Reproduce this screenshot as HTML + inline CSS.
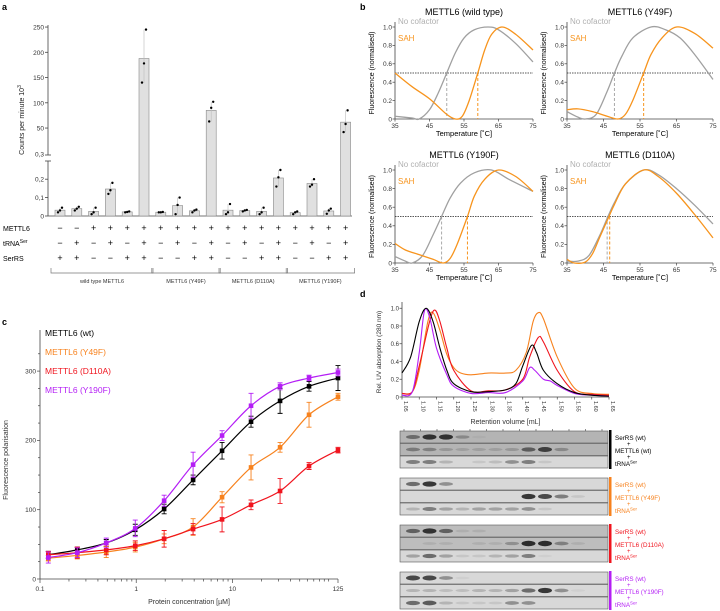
<!DOCTYPE html>
<html><head><meta charset="utf-8"><style>
body{margin:0;background:#fff}
svg{display:block;font-family:"Liberation Sans",sans-serif}
</style></head><body>
<svg id="fig" width="720" height="611" viewBox="0 0 720 611" xmlns="http://www.w3.org/2000/svg"></svg>
<script>
// ---------- Panel a data ----------
const aGroups = ["wild type METTL6","METTL6 (Y49F)","METTL6 (D110A)","METTL6 (Y190F)"];
const aGroupSizes = [6,4,4,4];
const aReps = [[0.02,0.03,0.045],[0.03,0.04,0.05],[0.01,0.02,0.045],[0.12,0.14,0.18],[0.02,0.022,0.025],[140,178,245],
 [0.02,0.02,0.022],[0.01,0.06,0.1],[0.02,0.03,0.035],[63,90,102],
 [0.01,0.02,0.065],[0.025,0.03,0.033],[0.01,0.02,0.045],[0.16,0.21,0.25],
 [0.01,0.02,0.025],[0.16,0.17,0.2],[0.012,0.03,0.04],[42,58,85]];
const aUpper = [0,0,0,0,0,1, 0,0,0,1, 0,0,0,0, 0,0,0,1];
const aMettl = "--++++++++++++++++";
const aTrna  = "-+-+-+-+-+-+-+-+-+";
const aSerrs = "++--++--++--++--++";
const aUpperTicks = [50,100,150,200,250];
const aLowerTicks = [0,0.1,0.2];
// ---------- Panel b data ----------
const bTitles = ["METTL6 (wild type)","METTL6 (Y49F)","METTL6 (Y190F)","METTL6 (D110A)"];
const bGray = [
 [[35,.03],[40,.01],[42,0],[45,.1],[47.5,.28],[50,.5],[52.5,.72],[55,.88],[58,.97],[62,1],[65,.97],[70,.82],[75,.62]],
 [[35,.08],[38,.02],[40,0],[43,.05],[46,.3],[48,.5],[50,.68],[53,.88],[58,1],[62,.97],[66,.88],[70,.7],[75,.43]],
 [[35,.07],[38,.02],[40,0],[43,.08],[46,.3],[48.5,.5],[51,.7],[54,.86],[58,.97],[63,1],[68,.9],[75,.77]],
 [[35,.02],[38,.02],[41,.08],[44,.3],[46,.48],[48,.65],[51,.85],[56,1],[60,.95],[65,.8],[70,.62],[75,.42]]];
const bOrange = [
 [[35,.5],[40,.35],[45,.22],[50,.05],[52.5,0],[54.5,.03],[56.5,.2],[59,.5],[61,.75],[63,.92],[66,1],[70,.92],[75,.75]],
 [[35,.1],[38,.11],[42,.08],[46,.03],[49,0],[51,.05],[53,.2],[56,.5],[58,.7],[61,.88],[65,1],[70,.93],[75,.77]],
 [[35,.21],[38,.14],[42,.09],[46,.04],[49,0],[51,.05],[53,.2],[56,.5],[58,.72],[61,.9],[65,1],[70,.93],[75,.77]],
 [[35,.04],[37,0],[40,.01],[42,.1],[44,.28],[46.5,.5],[48,.63],[51,.85],[56,1],[60,.93],[65,.75],[70,.52],[75,.27]]];
const bTmGray = [50,48,48.5,46];
const bTmOrange = [59,56,56,46.7];
const bXTicks = [35,45,55,65,75];
const bYTicks = [0,0.2,0.4,0.6,0.8,1.0];
// ---------- Panel c data ----------
const cConc = [0.122,0.244,0.488,0.977,1.95,3.9,7.8,15.6,31.25,62.5,125];
const cNames = ["METTL6 (wt)","METTL6 (Y49F)","METTL6 (D110A)","METTL6 (Y190F)"];
const cColors = ["#000","#f7821e","#f0141e","#b41ef5"];
const cWt    = [35,42,52,71,101,143,185,227,257,278,290];
const cY49F  = [30,34,39,46,58,75,118,161,190,237,263];
const cD110A = [35,38,42,48,58,72,86,107,127,163,186];
const cY190F = [31,38,52,73,113,165,207,250,278,290,298];
const cErr   = [5,4,5,8,7,7,12,8,18,7,18];
const cYTicks = [0,100,200,300];
// ---------- Panel d data ----------
const dXTicks = [1.05,1.10,1.15,1.20,1.25,1.30,1.35,1.40,1.45,1.50,1.55,1.60,1.65];
const dYTicks = [0,0.2,0.4,0.6,0.8,1.0];
const dBlack = [[1.05,.27],[1.075,.45],[1.1,.85],[1.12,1],[1.14,.85],[1.16,.55],[1.18,.3],[1.2,.15],[1.25,.06],[1.3,.06],[1.35,.08],[1.38,.15],[1.4,.35],[1.425,.58],[1.44,.5],[1.46,.3],[1.5,.15],[1.55,.05],[1.6,.02],[1.65,.01]];
const dOrange = [[1.05,.04],[1.08,.06],[1.1,.3],[1.125,.85],[1.14,.95],[1.16,.75],[1.18,.48],[1.2,.33],[1.22,.27],[1.25,.25],[1.3,.27],[1.35,.27],[1.38,.3],[1.41,.5],[1.43,.85],[1.445,.95],[1.46,.88],[1.5,.45],[1.55,.1],[1.6,.04],[1.65,.03]];
const dRed = [[1.05,.04],[1.08,.06],[1.1,.35],[1.13,.85],[1.145,.98],[1.16,.85],[1.18,.55],[1.2,.3],[1.25,.07],[1.3,.07],[1.35,.08],[1.4,.2],[1.42,.45],[1.445,.67],[1.46,.62],[1.5,.3],[1.55,.06],[1.6,.03],[1.65,.02]];
const dPurple = [[1.05,.02],[1.08,.06],[1.1,.5],[1.115,.97],[1.13,.9],[1.15,.55],[1.18,.25],[1.2,.12],[1.25,.04],[1.3,.05],[1.35,.05],[1.4,.18],[1.42,.33],[1.435,.3],[1.46,.2],[1.48,.18],[1.5,.13],[1.55,.04],[1.6,.02],[1.65,.01]];
const dGelMutants = ["wt","Y49F","D110A","Y190F"];
const dGelBands = [
 [[.5,.9,.9,.3,.05,0,0,0,0,0,0,0],[.4,.35,.2,.15,.15,.15,.2,.6,.8,.3,0,0],[.5,.5,.2,0,.1,.15,.4,.5,.1,0,0,0]],
 [[.6,.9,.4,0,0,0,0,0,0,0,0,0],[0,0,0,0,0,0,0,.9,.8,.5,.1,0],[.2,.5,.3,.2,.3,.3,.3,.4,.1,0,0,0]],
 [[.6,.9,.6,.1,.1,0,0,0,0,0,0,0],[0,.1,.1,0,.1,.1,.3,.95,.95,.4,.1,0],[.3,.6,.3,.1,.1,.2,.3,.5,.05,0,0,0]],
 [[.8,.8,.4,.05,0,0,0,0,0,0,0,0],[.2,.2,.15,.15,.2,.2,.3,.6,.9,.4,.05,0],[.6,.7,.2,.1,.1,.1,.4,.4,0,0,0,0]]];

const NS="http://www.w3.org/2000/svg";
const svg=document.getElementById('fig');
function el(tag,attrs,parent){const e=document.createElementNS(NS,tag);for(const k in attrs)e.setAttribute(k,attrs[k]);(parent||svg).appendChild(e);return e;}
function txt(s,x,y,size,attrs,parent){const t=el('text',Object.assign({x:x,y:y,'font-size':size},attrs||{}),parent);t.textContent=s;return t;}
function smooth(pts){let d="M"+pts[0][0]+","+pts[0][1];for(let i=0;i<pts.length-1;i++){const p0=pts[i-1]||pts[i],p1=pts[i],p2=pts[i+1],p3=pts[i+2]||p2;
 d+=" C"+(p1[0]+(p2[0]-p0[0])/6)+","+(p1[1]+(p2[1]-p0[1])/6)+" "+(p2[0]-(p3[0]-p1[0])/6)+","+(p2[1]-(p3[1]-p1[1])/6)+" "+p2[0]+","+p2[1];}return d;}

// ================= PANEL A =================
const ga=el('g',{});

txt("a",2,10,9,{'font-weight':'bold'},ga);
const ayU=v=>153.3-v*0.505, ayL=v=>216-v*184;
const ax0=48, bx=i=>60+i*16.8;
el('line',{x1:ax0,y1:25,x2:ax0,y2:155,stroke:'#444','stroke-width':0.8},ga);
el('line',{x1:ax0,y1:161,x2:ax0,y2:216,stroke:'#444','stroke-width':0.8},ga);
el('line',{x1:ax0,y1:216,x2:352,y2:216,stroke:'#444','stroke-width':0.8},ga);
el('line',{x1:ax0-3,y1:155,x2:ax0+3,y2:155,stroke:'#444','stroke-width':0.8},ga);
el('line',{x1:ax0-3,y1:161,x2:ax0+3,y2:161,stroke:'#444','stroke-width':0.8},ga);
aUpperTicks.forEach(v=>{el('line',{x1:ax0-3,y1:ayU(v),x2:ax0,y2:ayU(v),stroke:'#444','stroke-width':0.8},ga);txt(String(v),ax0-4,ayU(v)+2.5,6.5,{'text-anchor':'end',fill:'#333'},ga);});
txt("0,3",ax0-4,156.5,6.5,{'text-anchor':'end',fill:'#333'},ga);
aLowerTicks.forEach(v=>{el('line',{x1:ax0-3,y1:ayL(v),x2:ax0,y2:ayL(v),stroke:'#444','stroke-width':0.8},ga);txt(v===0?"0":String(v).replace('.',','),ax0-4,ayL(v)+2.5,6.5,{'text-anchor':'end',fill:'#333'},ga);});
const ylab=txt("Counts per minute 10",0,0,7,{transform:'translate(24,120) rotate(-90)','text-anchor':'middle',fill:'#222'},ga);
const sup=el('tspan',{'font-size':5,dy:-3},ylab);sup.textContent="3";
aReps.forEach((r,i)=>{
 const m=r.reduce((a,b)=>a+b,0)/r.length;const f=aUpper[i]?ayU:ayL;
 const x=bx(i);
 const b=el('rect',{x:x-5,y:f(m),width:10,height:216-f(m),fill:'#e0e0e0',stroke:'#888','stroke-width':0.6},ga);
 
 const mx=Math.max(...r),mn=Math.min(...r);
 el('line',{x1:x,y1:f(mx),x2:x,y2:f(mn),stroke:'#bbb','stroke-width':0.6},ga);
 r.forEach((v,j)=>el('circle',{cx:x+(j-1)*2,cy:f(v),r:1.2,fill:'#000'},ga));
 txt(aMettl[i]==='+'?'+':'−',x,231,9,{'text-anchor':'middle'},ga);
 txt(aTrna[i]==='+'?'+':'−',x,246,9,{'text-anchor':'middle'},ga);
 txt(aSerrs[i]==='+'?'+':'−',x,261,9,{'text-anchor':'middle'},ga);
});
txt("METTL6",3,231,7,{},ga);
const tr=txt("tRNA",3,246,7,{},ga);const ts=el('tspan',{'font-size':5,dy:-3},tr);ts.textContent="Ser";
txt("SerRS",3,261,7,{},ga);
let start=0;aGroups.forEach((g,k)=>{const x1=bx(start)-9,x2=bx(start+aGroupSizes[k]-1)+9;
 el('path',{d:`M${x1},268 V273 H${x2} V268`,fill:'none',stroke:'#777','stroke-width':0.7},ga);
 txt(g,(x1+x2)/2,283,5.5,{'text-anchor':'middle',fill:'#333'},ga);start+=aGroupSizes[k];});

// ================= PANEL B =================
const gb=el('g',{});

txt("b",360,10,9,{'font-weight':'bold'},gb);
const bLayout=[[395,533,27,119],[567,713,27,119],[395,533,170,263],[567,713,170,263]];
bTitles.forEach((t,k)=>{
 const [x0,x1,y1,y0]=bLayout[k];const sx=v=>x0+(v-35)/40*(x1-x0), sy=v=>y0-(v)*(y0-y1);
 const g=el('g',{},gb);
 txt(t,(x0+x1)/2,y1-12,9,{'text-anchor':'middle'},g);
 el('line',{x1:x0,y1:y1-5,x2:x0,y2:y0,stroke:'#444','stroke-width':0.8},g);
 el('line',{x1:x0,y1:y0,x2:x1,y2:y0,stroke:'#444','stroke-width':0.8},g);
 bYTicks.forEach(v=>{el('line',{x1:x0-2.5,y1:sy(v),x2:x0,y2:sy(v),stroke:'#444','stroke-width':.7},g);txt(v===0?"0":v.toFixed(1),x0-3,sy(v)+2.3,6.5,{'text-anchor':'end',fill:'#333'},g);});
 bXTicks.forEach(v=>{el('line',{x1:sx(v),y1:y0,x2:sx(v),y2:y0+2.5,stroke:'#444','stroke-width':.7},g);txt(String(v),sx(v),y0+9,6.5,{'text-anchor':'middle',fill:'#333'},g);});
 txt("Temperature [˚C]",(x0+x1)/2,y0+17,7.5,{'text-anchor':'middle'},g);
 txt("Fluorescence (normalised)",0,0,7,{transform:`translate(${x0-21},${(y0+y1)/2}) rotate(-90)`,'text-anchor':'middle'},g);
 el('line',{x1:x0,y1:sy(.5),x2:x1,y2:sy(.5),stroke:'#222','stroke-width':.7,'stroke-dasharray':'1.5,1'},g);
 el('line',{x1:sx(bTmGray[k]),y1:sy(.5),x2:sx(bTmGray[k]),y2:y0,stroke:'#aaa','stroke-width':1,'stroke-dasharray':'3,2'},g);
 el('line',{x1:sx(bTmOrange[k]),y1:sy(.5),x2:sx(bTmOrange[k]),y2:y0,stroke:'#f7941d','stroke-width':1,'stroke-dasharray':'3,2'},g);
 const pg=el('path',{d:smooth(bGray[k].map(p=>[sx(p[0]),sy(p[1])])),fill:'none',stroke:'#a0a0a0','stroke-width':1.3},g);
 
 const po=el('path',{d:smooth(bOrange[k].map(p=>[sx(p[0]),sy(p[1])])),fill:'none',stroke:'#f7941d','stroke-width':1.3},g);
 
 txt("No cofactor",x0+3,y1-3,8,{fill:'#b0b0b0'},g);
 txt("SAH",x0+3,y1+14,8,{fill:'#f7941d'},g);
});

// ================= PANEL C =================
const gc=el('g',{});

txt("c",2,325,9,{'font-weight':'bold'},gc);
const cx0=40,cx1=338,cy0=579;
const csx=v=>cx0+(Math.log10(v)+1)/(Math.log10(125)+1)*(cx1-cx0), csy=v=>cy0-v*0.693;
el('line',{x1:cx0,y1:cy0,x2:cx0,y2:330,stroke:'#444','stroke-width':.8},gc);
el('line',{x1:cx0,y1:cy0,x2:cx1,y2:cy0,stroke:'#444','stroke-width':.8},gc);
for(let v=0;v<=325;v+=25){el('line',{x1:cx0-(v%100?2:3),y1:csy(v),x2:cx0,y2:csy(v),stroke:'#444','stroke-width':.7},gc);}
cYTicks.forEach(v=>txt(String(v),cx0-4,csy(v)+2.3,6.5,{'text-anchor':'end',fill:'#333'},gc));
[0.1,0.2,0.3,0.4,0.5,0.6,0.7,0.8,0.9,1,2,3,4,5,6,7,8,9,10,20,30,40,50,60,70,80,90,100,125].forEach(v=>{
 const major=[0.1,1,10,125].includes(v);el('line',{x1:csx(v),y1:cy0,x2:csx(v),y2:cy0+(major?4:2.5),stroke:'#444','stroke-width':.7},gc);
 if(major)txt(String(v),csx(v),cy0+12,6.5,{'text-anchor':'middle',fill:'#333'},gc);});
txt("Protein concentration [µM]",(cx0+cx1)/2,604,7,{'text-anchor':'middle',fill:'#333'},gc);
txt("Fluorescence polarisation",0,0,7,{transform:'translate(8,460) rotate(-90)','text-anchor':'middle',fill:'#333'},gc);
[cWt,cY49F,cD110A,cY190F].forEach((s,k)=>{
 const g=el('g',{},gc);
 el('path',{d:smooth(s.map((v,i)=>[csx(cConc[i]),csy(v)])),fill:'none',stroke:cColors[k],'stroke-width':1.2},g);
 s.forEach((v,i)=>{const x=csx(cConc[i]),e=cErr[(i+k)%cErr.length]*0.693;
  el('path',{d:`M${x},${csy(v)-e}V${csy(v)+e}M${x-2.5},${csy(v)-e}h5M${x-2.5},${csy(v)+e}h5`,stroke:cColors[k],'stroke-width':.9,fill:'none'},g);
  el('rect',{x:x-2.3,y:csy(v)-2.3,width:4.6,height:4.6,fill:cColors[k]},g);});
 txt(cNames[k],45,336+k*19,8.5,{fill:cColors[k]},gc);
});

// ================= PANEL D =================
const gd=el('g',{});

txt("d",360,297,9,{'font-weight':'bold'},gd);
const dx0=402,dx1=609,dy0=397;
const dsx=v=>dx0+(v-1.05)/0.6*(dx1-dx0), dsy=v=>dy0-v*88.75;
el('line',{x1:dx0,y1:dy0,x2:dx0,y2:302,stroke:'#444','stroke-width':.8},gd);
el('line',{x1:dx0,y1:dy0,x2:dx1,y2:dy0,stroke:'#444','stroke-width':.8},gd);
dYTicks.forEach(v=>{el('line',{x1:dx0-2.5,y1:dsy(v),x2:dx0,y2:dsy(v),stroke:'#444','stroke-width':.7},gd);txt(v===0?"0":v.toFixed(1),dx0-3,dsy(v)+2.3,6,{'text-anchor':'end',fill:'#333'},gd);});
dXTicks.forEach(v=>{el('line',{x1:dsx(v),y1:dy0,x2:dsx(v),y2:dy0+2.5,stroke:'#444','stroke-width':.7},gd);
 txt(v.toFixed(2),0,0,5.5,{transform:`translate(${dsx(v)+2},${dy0+4}) rotate(90)`,fill:'#333'},gd);});
txt("Retention volume [mL]",(dx0+dx1)/2,424,7,{'text-anchor':'middle',fill:'#333'},gd);
txt("Rel. UV absorption (280 nm)",0,0,6.5,{transform:'translate(381,352) rotate(-90)','text-anchor':'middle',fill:'#333'},gd);
[[dOrange,"#f7821e"],[dRed,"#f0141e"],[dPurple,"#b41ef5"],[dBlack,"#000"]].forEach(([s,c],k)=>{
 const p=el('path',{d:smooth(s.map(q=>[dsx(q[0]),dsy(q[1])])),fill:'none',stroke:c,'stroke-width':1.1},gd);
 });
// gels
const gelTops=[431,478,525,572];
const gelColors=["#000","#f7821e","#f0141e","#b41ef5"];
gelTops.forEach((gt,k)=>{
 const g=el('g',{},gd);
 for(let s=0;s<3;s++){
  const y=gt+s*12.5, bg=k===0&&s<2?'#b4b4b4':(k===2&&s<2?'#bdbdbd':'#d8d8d8');
  el('rect',{x:400,y:y,width:208,height:12,fill:bg,stroke:'#555','stroke-width':.6},g);
  dGelBands[k][s].forEach((v,i)=>{if(v>0.02)el('ellipse',{cx:413+i*16.5,cy:y+6,rx:7,ry:1.2+v*1.6,fill:'#111','fill-opacity':v*0.9},g);});
 }
 if(k===0)for(let i=0;i<13;i++)el('line',{x1:404+i*16.5,y1:gt-2,x2:404+i*16.5,y2:gt,stroke:'#444','stroke-width':.6},g);
 el('rect',{x:609,y:gt-1,width:2.5,height:39,fill:gelColors[k]},g);
 const c=gelColors[k];
 txt("SerRS (wt)",615,gt+9,6.3,{fill:c},g);txt("+",627,gt+15,6,{fill:c},g);
 txt("METTL6 ("+dGelMutants[k]+")",615,gt+22,6.3,{fill:c},g);txt("+",627,gt+28,6,{fill:c},g);
 const t=txt("tRNA",615,gt+35,6.3,{fill:c},g);const sp=el('tspan',{'font-size':4.5,dy:-2.5},t);sp.textContent="Ser";
});
</script>
</body></html>
